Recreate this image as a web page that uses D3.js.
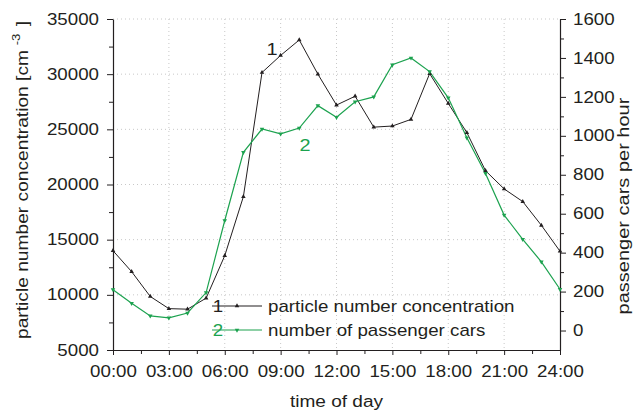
<!DOCTYPE html>
<html><head><meta charset="utf-8">
<script src="https://cdn.jsdelivr.net/npm/d3@7"></script>
<style>body{margin:0;background:#fff}svg{font-family:"Liberation Sans",Arial,sans-serif}</style>
</head><body><svg id="c" width="633" height="412"></svg>
<script>
const hours = d3.range(0, 25);
const particles = [14000,12100,9850,8750,8700,9700,13550,18900,30150,31700,33100,30000,27200,28000,25200,25300,25900,30050,27350,24700,21250,19600,18450,16300,13950];
const cars = [210,140,75,65,90,195,565,915,1035,1010,1040,1155,1095,1175,1200,1365,1400,1330,1195,990,807,593,468,353,212];
const xTicks = [0,3,6,9,12,15,18,21,24];
const xTickLabels = ["00:00","03:00","06:00","09:00","12:00","15:00","18:00","21:00","24:00"];
const leftTicks = [5000,10000,15000,20000,25000,30000,35000];
const rightTicks = [0,200,400,600,800,1000,1200,1400,1600];
const legendLabels = ["particle number concentration","number of passenger cars"];

const svg = d3.select("#c");
const L=113,R=560,T=19,B=350;
const black="#231f20", green="#1ca24f", gridc="#c8c8c8";
const SX = 1.17;
const x = d3.scaleLinear().domain([0,24]).range([L,R]);
const yL = d3.scaleLinear().domain([5000,35000]).range([B,T]);
const yR = d3.scaleLinear().domain([-100,1600]).range([B,T]);

function stretch(sel, s){
  sel.each(function(){
    const t = d3.select(this);
    const ax = +(t.attr("x")||0);
    t.attr("transform",`translate(${ax},0) scale(${s},1) translate(${-ax},0)`);
  });
}

// grid
const g = svg.append("g");
g.selectAll(".vg").data(xTicks.slice(1,-1)).enter().append("line")
 .attr("x1",d=>x(d)).attr("x2",d=>x(d)).attr("y1",T).attr("y2",B)
 .attr("stroke",gridc).attr("stroke-dasharray","1,3");
g.selectAll(".hg").data(leftTicks.slice(1)).enter().append("line")
 .attr("x1",L).attr("x2",R).attr("y1",d=>yL(d)).attr("y2",d=>yL(d))
 .attr("stroke",gridc).attr("stroke-dasharray","1,3");

function styleAxis(sel){
  sel.selectAll("path").attr("stroke",black).attr("stroke-width",1.2);
  sel.selectAll("line").attr("stroke",black);
  sel.selectAll("text").attr("fill",black).style("font-size","16px").style("font-family","Liberation Sans, Arial, sans-serif");
  stretch(sel.selectAll("text"), SX);
}
// minor ticks
svg.append("g").attr("transform",`translate(0,${B})`)
 .call(d3.axisBottom(x).tickValues(d3.range(1.5,24,3)).tickSize(4).tickFormat(""))
 .call(s=>{s.select("path").remove(); s.selectAll("line").attr("stroke",black);});
svg.append("g").attr("transform",`translate(${L},0)`)
 .call(d3.axisLeft(yL).tickValues(d3.range(7500,35000,5000)).tickSize(4).tickFormat(""))
 .call(s=>{s.select("path").remove(); s.selectAll("line").attr("stroke",black);});
svg.append("g").attr("transform",`translate(${R},0)`)
 .call(d3.axisRight(yR).tickValues(d3.range(100,1600,200)).tickSize(4).tickFormat(""))
 .call(s=>{s.select("path").remove(); s.selectAll("line").attr("stroke",black);});

const ax = svg.append("g").attr("transform",`translate(0,${B})`)
 .call(d3.axisBottom(x).tickValues(xTicks).tickSize(5).tickSizeOuter(0).tickPadding(11).tickFormat((d,i)=>xTickLabels[i]));
styleAxis(ax);
const ayl = svg.append("g").attr("transform",`translate(${L},0)`)
 .call(d3.axisLeft(yL).tickValues(leftTicks).tickSize(6).tickSizeOuter(0).tickPadding(8));
ayl.selectAll("text").text(d=>d);
styleAxis(ayl);
const ayr = svg.append("g").attr("transform",`translate(${R},0)`)
 .call(d3.axisRight(yR).tickValues(rightTicks).tickSize(6).tickSizeOuter(0).tickPadding(7));
ayr.selectAll("text").text(d=>d);
styleAxis(ayr);

// lines
const line1 = d3.line().x((d,i)=>x(hours[i])).y(d=>yL(d));
const line2 = d3.line().x((d,i)=>x(hours[i])).y(d=>yR(d));
svg.append("path").datum(particles).attr("d",line1).attr("fill","none").attr("stroke",black).attr("stroke-width",1);
svg.append("path").datum(cars).attr("d",line2).attr("fill","none").attr("stroke",green).attr("stroke-width",1.2);
const up = d3.symbol().type(d3.symbolTriangle).size(9);
svg.selectAll(".m1").data(particles).enter().append("path").attr("d",up)
 .attr("transform",(d,i)=>`translate(${x(hours[i])},${yL(d)})`).attr("fill",black);
svg.selectAll(".m2").data(cars).enter().append("path").attr("d",up)
 .attr("transform",(d,i)=>`translate(${x(hours[i])},${yR(d)}) rotate(180)`).attr("fill",green);

// annotations
const a1 = svg.append("text").attr("x",272).attr("y",55).attr("text-anchor","middle").attr("fill",black).style("font-size","17px").text("1");
const a2 = svg.append("text").attr("x",305).attr("y",151).attr("text-anchor","middle").attr("fill",green).style("font-size","17px").text("2");
stretch(a1,SX); stretch(a2,SX);

// legend
const lg = svg.append("g");
[[black,"1",306,false],[green,"2",330,true]].forEach((c,i)=>{
  const [col,num,ly,down]=c;
  const n = lg.append("text").attr("x",218).attr("y",ly+6).attr("text-anchor","middle").attr("fill",col).style("font-size","16px").text(num);
  stretch(n,SX);
  lg.append("line").attr("x1",212).attr("x2",262).attr("y1",ly).attr("y2",ly).attr("stroke",col).attr("stroke-width",1.1);
  lg.append("path").attr("d",up).attr("transform",`translate(237,${ly})`+(down?" rotate(180)":"")).attr("fill",col);
  const t = lg.append("text").attr("x",268).attr("y",ly+6).attr("fill",black).style("font-size","16px").text(legendLabels[i]);
  stretch(t,SX);
});

// axis titles
const xt = svg.append("text").attr("x",(L+R)/2).attr("y",407).attr("text-anchor","middle").attr("fill",black).style("font-size","16px").text("time of day");
stretch(xt,1.19);
const lt = svg.append("text").attr("transform","translate(28,180) rotate(-90) scale(1.2,1)").attr("text-anchor","middle").attr("fill",black).style("font-size","16px");
lt.append("tspan").text("particle number concentration [cm");
lt.append("tspan").attr("dy",-8).attr("dx",4).style("font-size","11px").text("-3");
lt.append("tspan").attr("dy",8).attr("dx",6).text("]");
svg.append("text").attr("transform","translate(629,206) rotate(-90) scale(1.25,1)").attr("text-anchor","middle").attr("fill",black).style("font-size","16px").text("passenger cars per hour");
</script></body></html>
